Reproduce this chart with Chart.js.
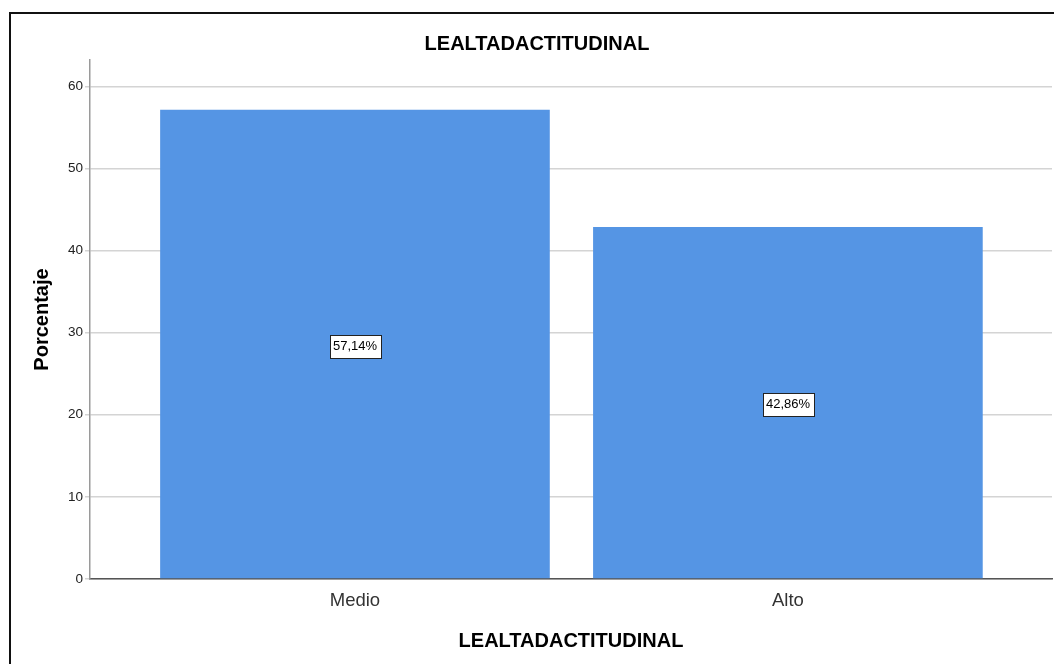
<!DOCTYPE html>
<html>
<head>
<meta charset="utf-8">
<script src="https://cdn.jsdelivr.net/npm/chart.js@4"></script>
<style>
  html, body { margin: 0; padding: 0; background: #fff; }
  #wrap { position: relative; width: 1054px; height: 664px; }
  #wrap canvas { position: absolute; left: 0; top: 0; }
  /* outer frame of the chart window */
  #frame { position: absolute; left: 9px; top: 12px; right: 0; bottom: 0;
           border-left: 2px solid #111; border-top: 2px solid #111; pointer-events: none; }
</style>
</head>
<body>
<div id="wrap">
  <canvas id="chart" width="1054" height="664"></canvas>
  <div id="frame"></div>
</div>
<script>
// Categories and their percentages
const categories = ['Medio', 'Alto'];
const percentages = [57.14, 42.86];
// Y axis tick values
const yTicks = [0, 10, 20, 30, 40, 50, 60];

const FONT = '"Liberation Sans", Arial, Helvetica, sans-serif';
const barColor = '#5595e4';

// Boxed value labels centred inside each bar
const valueBoxes = {
  id: 'valueBoxes',
  afterDatasetsDraw(chart) {
    const ctx = chart.ctx;
    const meta = chart.getDatasetMeta(0);
    ctx.save();
    ctx.font = '13px ' + FONT;
    ctx.textAlign = 'center';
    ctx.textBaseline = 'middle';
    meta.data.forEach((bar, i) => {
      const { x, y, base } = bar.getProps(['x', 'y', 'base'], true);
      const text = percentages[i].toFixed(2).replace('.', ',') + '%';
      const w = Math.round(ctx.measureText(text).width + 7);
      const h = 23;
      const cx = Math.round(x);
      const cy = Math.round((y + base) / 2 + 1.5);
      const left = Math.round(cx - w / 2) + 0.5;
      const top = Math.round(cy - h / 2) + 0.5;
      ctx.fillStyle = '#ffffff';
      ctx.fillRect(left, top, w, h);
      ctx.strokeStyle = '#222';
      ctx.lineWidth = 1;
      ctx.strokeRect(left, top, w, h);
      ctx.fillStyle = '#000';
      ctx.fillText(text, cx, cy + 0.5);
    });
    ctx.restore();
  }
};

new Chart(document.getElementById('chart'), {
  type: 'bar',
  data: {
    datasets: [{
      data: categories.map((c, i) => ({ x: i + 1, y: percentages[i] })),
      backgroundColor: barColor,
      borderWidth: 0,
      categoryPercentage: 1,
      barPercentage: 0.9
    }]
  },
  options: {
    responsive: false,
    animation: false,
    events: [],
    layout: { padding: { left: 22, right: 2, top: 0, bottom: 0 } },
    plugins: {
      legend: { display: false },
      tooltip: { enabled: false },
      title: {
        display: true,
        text: 'LEALTADACTITUDINAL',
        color: '#000',
        font: { family: FONT, size: 20, weight: 'bold' },
        padding: { top: 32.5, bottom: 3.5 }
      }
    },
    scales: {
      x: {
        type: 'linear',
        offset: false,
        min: 0.388,
        max: 2.61,
        afterBuildTicks(scale) {
          scale.ticks = categories.map((c, i) => ({ value: i + 1 }));
        },
        afterFit(scale) { scale.height = 85; },
        ticks: {
          autoSkip: false,
          maxRotation: 0,
          padding: 11,
          color: '#333',
          font: { family: FONT, size: 18.5 },
          callback: (v) => categories[v - 1]
        },
        grid: { display: false, drawTicks: false, offset: false },
        border: { display: true, color: '#555', width: 1.5 },
        title: {
          display: true,
          text: 'LEALTADACTITUDINAL',
          color: '#000',
          font: { family: FONT, size: 20, weight: 'bold' },
          padding: { top: 4, bottom: 11 }
        }
      },
      y: {
        min: 0,
        max: 63.2,
        afterBuildTicks(scale) {
          scale.ticks = yTicks.map(v => ({ value: v }));
        },
        afterFit(scale) { scale.width = 68; },
        ticks: {
          padding: 2,
          color: '#222',
          font: { family: FONT, size: 13.5 }
        },
        grid: { color: '#d4d4d4', lineWidth: 1.5, tickLength: 5 },
        border: { display: true, color: '#9a9a9a', width: 1.5 },
        title: {
          display: true,
          text: 'Porcentaje',
          color: '#000',
          font: { family: FONT, size: 20, weight: 'bold' },
          padding: { top: 8, bottom: 4 }
        }
      }
    }
  },
  plugins: [valueBoxes]
});
</script>
</body>
</html>
